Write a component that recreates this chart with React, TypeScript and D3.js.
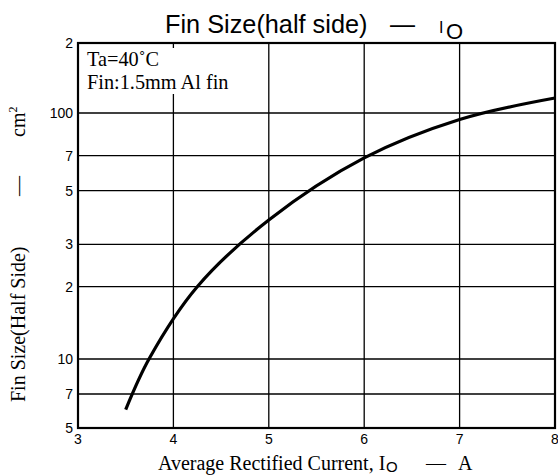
import React from 'react';
import * as d3 from 'd3';

const xTicks = [3, 4, 5, 6, 7, 8];
const xTickLabels = ['3', '4', '5', '6', '7', '8'];
const yTicks = [5, 7, 10, 20, 30, 50, 70, 100, 200];
const yTickLabels = ['5', '7', '10', '2', '3', '5', '7', '100', '2'];
const currentA = [3.5, 3.75, 4.25, 5, 6, 7, 8];
const finSizeCm2 = [6.0, 10.1, 20, 37.8, 68.5, 94.7, 116];

const W = 558;
const H = 475;
const M = { left: 78, right: 555, top: 43, bottom: 428 };
// calibration of the (hand-drawn) log axis: pixel row of each grid value
const Y_GRID_PX = [428, 394, 359, 286.7, 244.3, 190.7, 155.7, 113, 43];

const SANS = 'Liberation Sans, Arial, sans-serif';
const SERIF = 'Liberation Serif, Times New Roman, serif';

export default function App() {
  const x = d3.scaleLinear().domain([3, 8]).range([M.left, M.right]);
  const y = d3.scaleLog().domain(yTicks).range(Y_GRID_PX);

  const pts = currentA.map((a, i) => [a, finSizeCm2[i]] as [number, number]);
  const line = d3
    .line<[number, number]>()
    .x((d) => x(d[0]))
    .y((d) => y(d[1]))
    .curve(d3.curveCatmullRom.alpha(0.5));

  return (
    <svg
      width={W}
      height={H}
      style={{ position: 'absolute', left: 0, top: 0, background: '#fff' }}
    >
      <rect x={0} y={0} width={W} height={H} fill="#fff" />
      {/* grid */}
      {xTicks.slice(1, -1).map((t) => (
        <line key={'gx' + t} x1={x(t)} x2={x(t)} y1={M.top} y2={M.bottom} stroke="#000" strokeWidth={1.3} />
      ))}
      {yTicks.slice(1, -1).map((t) => (
        <line key={'gy' + t} x1={M.left} x2={M.right} y1={y(t)} y2={y(t)} stroke="#000" strokeWidth={1.3} />
      ))}
      {/* annotation box */}
      <rect x={M.left + 1} y={48} width={160} height={46} fill="#fff" />
      <text x={87} y={66} fontFamily={SERIF} fontSize={20.3} fill="#000">Ta=40˚C</text>
      <text x={87} y={89} fontFamily={SERIF} fontSize={20.3} fill="#000">Fin:1.5mm Al fin</text>
      {/* curve */}
      <path d={line(pts) || ''} fill="none" stroke="#000" strokeWidth={3.2} />
      {/* border */}
      <rect x={M.left} y={M.top} width={M.right - M.left} height={M.bottom - M.top} fill="none" stroke="#000" strokeWidth={2.2} />
      {/* x tick labels */}
      {xTicks.map((t, i) => (
        <text key={'xt' + t} x={x(t)} y={444} textAnchor="middle" fontFamily={SANS} fontSize={14} fill="#000">
          {xTickLabels[i]}
        </text>
      ))}
      {/* y tick labels */}
      {yTicks.map((t, i) => (
        <text key={'yt' + t} x={73} y={y(t)} dy="0.35em" textAnchor="end" fontFamily={SANS} fontSize={14} fill="#000">
          {yTickLabels[i]}
        </text>
      ))}
      {/* title */}
      <text y={33} fontFamily={SANS} fill="#000" style={{ whiteSpace: 'pre' }}>
        <tspan x={165} fontSize={25.3}>Fin Size(half side)</tspan>
        <tspan x={390} fontSize={25}>—</tspan>
        <tspan x={439} fontSize={16}>I</tspan>
        <tspan x={446} y={39} fontSize={22}>O</tspan>
      </text>
      {/* x axis title */}
      <text y={470} fontFamily={SERIF} fontSize={20} fill="#000" style={{ whiteSpace: 'pre' }}>
        <tspan x={158}>Average Rectified Current, I</tspan>
        <tspan x={386} y={472} fontFamily={SANS} fontSize={15}>O</tspan>
        <tspan x={426} y={470}>—</tspan>
        <tspan x={458}>A</tspan>
      </text>
      {/* y axis title */}
      <g transform="translate(25,0) rotate(-90)">
        <text y={0} fontFamily={SERIF} fontSize={20} fill="#000" style={{ whiteSpace: 'pre' }}>
          <tspan x={-402}>Fin Size(Half Side)</tspan>
          <tspan x={-196}>—</tspan>
          <tspan x={-137}>cm</tspan>
          <tspan dy={-8} fontSize={12}>2</tspan>
        </text>
      </g>
    </svg>
  );
}
